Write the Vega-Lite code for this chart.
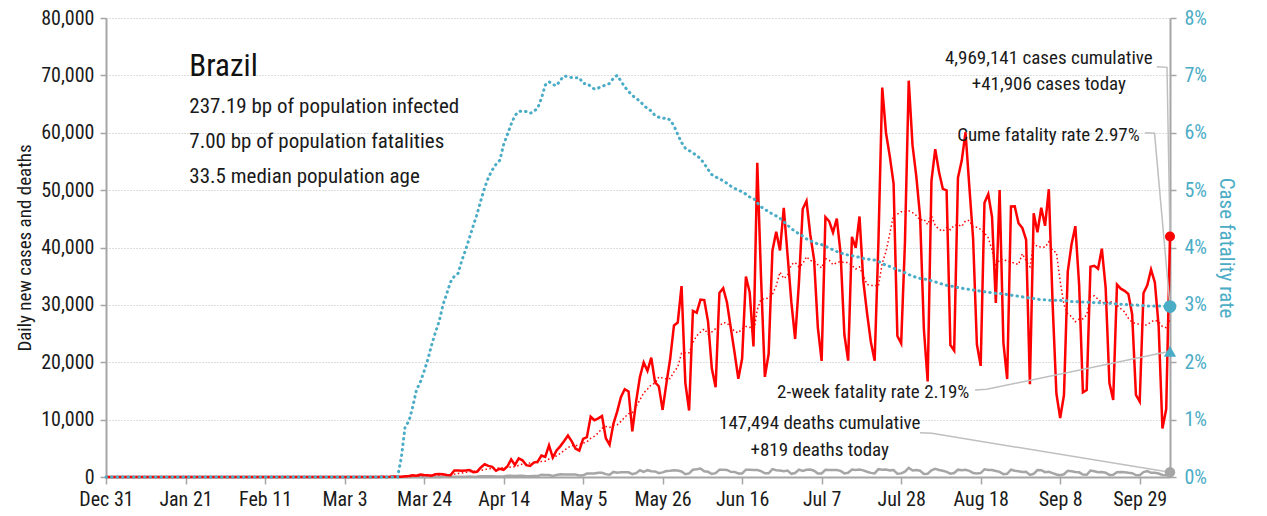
{
"$schema": "https://vega.github.io/schema/vega-lite/v6.json",
"width": 1064, "height": 459,
"autosize": {"type": "none"},
"padding": {"left": 106, "top": 18, "right": 97, "bottom": 39},
"background": "#ffffff",
"config": {"font": "Liberation Sans Narrow, Roboto Condensed, DejaVu Sans Condensed, Arial Narrow, sans-serif", "view": {"stroke": null}},
"data": {"values": [
{"date":"2019-12-31","cases":0,"deaths":0,"cfr":0},
{"date":"2020-01-01","cases":0,"deaths":0,"cfr":0},{"date":"2020-01-02","cases":0,"deaths":0,"cfr":0},{"date":"2020-01-03","cases":0,"deaths":0,"cfr":0},{"date":"2020-01-04","cases":0,"deaths":0,"cfr":0},{"date":"2020-01-05","cases":0,"deaths":0,"cfr":0},{"date":"2020-01-06","cases":0,"deaths":0,"cfr":0},{"date":"2020-01-07","cases":0,"deaths":0,"cfr":0},{"date":"2020-01-08","cases":0,"deaths":0,"cfr":0},{"date":"2020-01-09","cases":0,"deaths":0,"cfr":0},{"date":"2020-01-10","cases":0,"deaths":0,"cfr":0},
{"date":"2020-01-11","cases":0,"deaths":0,"cfr":0},{"date":"2020-01-12","cases":0,"deaths":0,"cfr":0},{"date":"2020-01-13","cases":0,"deaths":0,"cfr":0},{"date":"2020-01-14","cases":0,"deaths":0,"cfr":0},{"date":"2020-01-15","cases":0,"deaths":0,"cfr":0},{"date":"2020-01-16","cases":0,"deaths":0,"cfr":0},{"date":"2020-01-17","cases":0,"deaths":0,"cfr":0},{"date":"2020-01-18","cases":0,"deaths":0,"cfr":0},{"date":"2020-01-19","cases":0,"deaths":0,"cfr":0},{"date":"2020-01-20","cases":0,"deaths":0,"cfr":0},
{"date":"2020-01-21","cases":0,"deaths":0,"cfr":0},{"date":"2020-01-22","cases":0,"deaths":0,"cfr":0},{"date":"2020-01-23","cases":0,"deaths":0,"cfr":0},{"date":"2020-01-24","cases":0,"deaths":0,"cfr":0},{"date":"2020-01-25","cases":0,"deaths":0,"cfr":0},{"date":"2020-01-26","cases":0,"deaths":0,"cfr":0},{"date":"2020-01-27","cases":0,"deaths":0,"cfr":0},{"date":"2020-01-28","cases":0,"deaths":0,"cfr":0},{"date":"2020-01-29","cases":0,"deaths":0,"cfr":0},{"date":"2020-01-30","cases":0,"deaths":0,"cfr":0},{"date":"2020-01-31","cases":0,"deaths":0,"cfr":0},
{"date":"2020-02-01","cases":0,"deaths":0,"cfr":0},{"date":"2020-02-02","cases":0,"deaths":0,"cfr":0},{"date":"2020-02-03","cases":0,"deaths":0,"cfr":0},{"date":"2020-02-04","cases":0,"deaths":0,"cfr":0},{"date":"2020-02-05","cases":0,"deaths":0,"cfr":0},{"date":"2020-02-06","cases":0,"deaths":0,"cfr":0},{"date":"2020-02-07","cases":0,"deaths":0,"cfr":0},{"date":"2020-02-08","cases":0,"deaths":0,"cfr":0},{"date":"2020-02-09","cases":0,"deaths":0,"cfr":0},{"date":"2020-02-10","cases":0,"deaths":0,"cfr":0},
{"date":"2020-02-11","cases":0,"deaths":0,"cfr":0},{"date":"2020-02-12","cases":0,"deaths":0,"cfr":0},{"date":"2020-02-13","cases":0,"deaths":0,"cfr":0},{"date":"2020-02-14","cases":0,"deaths":0,"cfr":0},{"date":"2020-02-15","cases":0,"deaths":0,"cfr":0},{"date":"2020-02-16","cases":0,"deaths":0,"cfr":0},{"date":"2020-02-17","cases":0,"deaths":0,"cfr":0},{"date":"2020-02-18","cases":0,"deaths":0,"cfr":0},{"date":"2020-02-19","cases":0,"deaths":0,"cfr":0},{"date":"2020-02-20","cases":0,"deaths":0,"cfr":0},
{"date":"2020-02-21","cases":0,"deaths":0,"cfr":0},{"date":"2020-02-22","cases":0,"deaths":0,"cfr":0},{"date":"2020-02-23","cases":0,"deaths":0,"cfr":0},{"date":"2020-02-24","cases":0,"deaths":0,"cfr":0},{"date":"2020-02-25","cases":0,"deaths":0,"cfr":0},{"date":"2020-02-26","cases":1,"deaths":0,"cfr":0},{"date":"2020-02-27","cases":0,"deaths":0,"cfr":0},{"date":"2020-02-28","cases":0,"deaths":0,"cfr":0},{"date":"2020-02-29","cases":0,"deaths":0,"cfr":0},
{"date":"2020-03-01","cases":1,"deaths":0,"cfr":0},{"date":"2020-03-02","cases":0,"deaths":0,"cfr":0},{"date":"2020-03-03","cases":0,"deaths":0,"cfr":0},{"date":"2020-03-04","cases":0,"deaths":0,"cfr":0},{"date":"2020-03-05","cases":1,"deaths":0,"cfr":0},{"date":"2020-03-06","cases":5,"deaths":0,"cfr":0},{"date":"2020-03-07","cases":5,"deaths":0,"cfr":0},{"date":"2020-03-08","cases":0,"deaths":0,"cfr":0},{"date":"2020-03-09","cases":12,"deaths":0,"cfr":0},{"date":"2020-03-10","cases":0,"deaths":0,"cfr":0},
{"date":"2020-03-11","cases":9,"deaths":0,"cfr":0},{"date":"2020-03-12","cases":18,"deaths":0,"cfr":0},{"date":"2020-03-13","cases":25,"deaths":0,"cfr":0},{"date":"2020-03-14","cases":21,"deaths":0,"cfr":0},{"date":"2020-03-15","cases":23,"deaths":0,"cfr":0},{"date":"2020-03-16","cases":79,"deaths":0,"cfr":0},{"date":"2020-03-17","cases":34,"deaths":0,"cfr":0},{"date":"2020-03-18","cases":57,"deaths":1,"cfr":0.34},{"date":"2020-03-19","cases":137,"deaths":3,"cfr":0.88},{"date":"2020-03-20","cases":193,"deaths":3,"cfr":0.97},
{"date":"2020-03-21","cases":283,"deaths":4,"cfr":1.22},{"date":"2020-03-22","cases":224,"deaths":7,"cfr":1.52},{"date":"2020-03-23","cases":418,"deaths":7,"cfr":1.65},{"date":"2020-03-24","cases":345,"deaths":9,"cfr":1.84},{"date":"2020-03-25","cases":310,"deaths":12,"cfr":2.05},{"date":"2020-03-26","cases":232,"deaths":11,"cfr":2.3},{"date":"2020-03-27","cases":482,"deaths":20,"cfr":2.52},{"date":"2020-03-28","cases":502,"deaths":15,"cfr":2.72},{"date":"2020-03-29","cases":487,"deaths":22,"cfr":3.0},{"date":"2020-03-30","cases":352,"deaths":22,"cfr":3.2},{"date":"2020-03-31","cases":323,"deaths":23,"cfr":3.4},
{"date":"2020-04-01","cases":1138,"deaths":42,"cfr":3.5},{"date":"2020-04-02","cases":1119,"deaths":40,"cfr":3.55},{"date":"2020-04-03","cases":1074,"deaths":58,"cfr":3.78},{"date":"2020-04-04","cases":1146,"deaths":60,"cfr":3.96},{"date":"2020-04-05","cases":1222,"deaths":73,"cfr":4.17},{"date":"2020-04-06","cases":852,"deaths":54,"cfr":4.38},{"date":"2020-04-07","cases":926,"deaths":67,"cfr":4.58},{"date":"2020-04-08","cases":1661,"deaths":114,"cfr":4.82},{"date":"2020-04-09","cases":2210,"deaths":133,"cfr":5.04},{"date":"2020-04-10","cases":1930,"deaths":141,"cfr":5.22},
{"date":"2020-04-11","cases":1781,"deaths":115,"cfr":5.35},{"date":"2020-04-12","cases":1089,"deaths":68,"cfr":5.45},{"date":"2020-04-13","cases":1442,"deaths":99,"cfr":5.52},{"date":"2020-04-14","cases":1261,"deaths":105,"cfr":5.79},{"date":"2020-04-15","cases":1832,"deaths":204,"cfr":5.97},{"date":"2020-04-16","cases":3058,"deaths":204,"cfr":6.15},{"date":"2020-04-17","cases":2105,"deaths":188,"cfr":6.3},{"date":"2020-04-18","cases":3257,"deaths":217,"cfr":6.37},{"date":"2020-04-19","cases":2917,"deaths":206,"cfr":6.38},{"date":"2020-04-20","cases":2055,"deaths":115,"cfr":6.37},
{"date":"2020-04-21","cases":1927,"deaths":113,"cfr":6.34},{"date":"2020-04-22","cases":2498,"deaths":166,"cfr":6.37},{"date":"2020-04-23","cases":2678,"deaths":165,"cfr":6.43},{"date":"2020-04-24","cases":3735,"deaths":407,"cfr":6.6},{"date":"2020-04-25","cases":3503,"deaths":357,"cfr":6.83},{"date":"2020-04-26","cases":5514,"deaths":346,"cfr":6.89},{"date":"2020-04-27","cases":3379,"deaths":189,"cfr":6.84},{"date":"2020-04-28","cases":4613,"deaths":338,"cfr":6.82},{"date":"2020-04-29","cases":5385,"deaths":474,"cfr":6.92},{"date":"2020-04-30","cases":6276,"deaths":449,"cfr":6.99},
{"date":"2020-05-01","cases":7218,"deaths":435,"cfr":6.98},{"date":"2020-05-02","cases":6209,"deaths":428,"cfr":6.96},{"date":"2020-05-03","cases":4970,"deaths":421,"cfr":6.96},{"date":"2020-05-04","cases":4588,"deaths":275,"cfr":6.96},{"date":"2020-05-05","cases":6633,"deaths":296,"cfr":6.86},{"date":"2020-05-06","cases":6935,"deaths":600,"cfr":6.86},{"date":"2020-05-07","cases":10503,"deaths":615,"cfr":6.81},{"date":"2020-05-08","cases":9888,"deaths":610,"cfr":6.76},{"date":"2020-05-09","cases":10222,"deaths":751,"cfr":6.78},{"date":"2020-05-10","cases":10611,"deaths":730,"cfr":6.81},
{"date":"2020-05-11","cases":6760,"deaths":496,"cfr":6.83},{"date":"2020-05-12","cases":5632,"deaths":396,"cfr":6.86},{"date":"2020-05-13","cases":9258,"deaths":881,"cfr":6.95},{"date":"2020-05-14","cases":11385,"deaths":749,"cfr":7.0},{"date":"2020-05-15","cases":13944,"deaths":844,"cfr":6.9},{"date":"2020-05-16","cases":15305,"deaths":824,"cfr":6.8},{"date":"2020-05-17","cases":14919,"deaths":816,"cfr":6.72},{"date":"2020-05-18","cases":7938,"deaths":485,"cfr":6.65},{"date":"2020-05-19","cases":13140,"deaths":674,"cfr":6.6},{"date":"2020-05-20","cases":17408,"deaths":1179,"cfr":6.55},
{"date":"2020-05-21","cases":19951,"deaths":888,"cfr":6.48},{"date":"2020-05-22","cases":18508,"deaths":1188,"cfr":6.42},{"date":"2020-05-23","cases":20803,"deaths":1001,"cfr":6.38},{"date":"2020-05-24","cases":16508,"deaths":965,"cfr":6.3},{"date":"2020-05-25","cases":15813,"deaths":653,"cfr":6.27},{"date":"2020-05-26","cases":11687,"deaths":807,"cfr":6.25},{"date":"2020-05-27","cases":16324,"deaths":1039,"cfr":6.26},{"date":"2020-05-28","cases":20599,"deaths":1086,"cfr":6.22},{"date":"2020-05-29","cases":26417,"deaths":1156,"cfr":6.12},{"date":"2020-05-30","cases":26928,"deaths":1124,"cfr":5.97},{"date":"2020-05-31","cases":33274,"deaths":956,"cfr":5.83},
{"date":"2020-06-01","cases":16409,"deaths":480,"cfr":5.73},{"date":"2020-06-02","cases":11598,"deaths":623,"cfr":5.69},{"date":"2020-06-03","cases":28936,"deaths":1262,"cfr":5.65},{"date":"2020-06-04","cases":28633,"deaths":1349,"cfr":5.6},{"date":"2020-06-05","cases":30925,"deaths":1473,"cfr":5.55},{"date":"2020-06-06","cases":30830,"deaths":1005,"cfr":5.46},{"date":"2020-06-07","cases":27075,"deaths":904,"cfr":5.36},{"date":"2020-06-08","cases":18912,"deaths":525,"cfr":5.27},{"date":"2020-06-09","cases":15654,"deaths":679,"cfr":5.23},{"date":"2020-06-10","cases":32091,"deaths":1272,"cfr":5.2},
{"date":"2020-06-11","cases":32913,"deaths":1274,"cfr":5.16},{"date":"2020-06-12","cases":30412,"deaths":1239,"cfr":5.12},{"date":"2020-06-13","cases":25982,"deaths":909,"cfr":5.07},{"date":"2020-06-14","cases":21704,"deaths":892,"cfr":5.03},{"date":"2020-06-15","cases":17110,"deaths":612,"cfr":5.0},{"date":"2020-06-16","cases":20647,"deaths":627,"cfr":4.97},{"date":"2020-06-17","cases":34918,"deaths":1282,"cfr":4.93},{"date":"2020-06-18","cases":32188,"deaths":1269,"cfr":4.88},{"date":"2020-06-19","cases":22765,"deaths":1238,"cfr":4.86},{"date":"2020-06-20","cases":54771,"deaths":1206,"cfr":4.78},
{"date":"2020-06-21","cases":34666,"deaths":1022,"cfr":4.71},{"date":"2020-06-22","cases":17459,"deaths":641,"cfr":4.66},{"date":"2020-06-23","cases":21432,"deaths":654,"cfr":4.63},{"date":"2020-06-24","cases":39436,"deaths":1374,"cfr":4.58},{"date":"2020-06-25","cases":42725,"deaths":1185,"cfr":4.55},{"date":"2020-06-26","cases":39483,"deaths":1141,"cfr":4.51},{"date":"2020-06-27","cases":46907,"deaths":990,"cfr":4.45},{"date":"2020-06-28","cases":38693,"deaths":1109,"cfr":4.39},{"date":"2020-06-29","cases":30476,"deaths":552,"cfr":4.33},{"date":"2020-06-30","cases":24052,"deaths":692,"cfr":4.28},
{"date":"2020-07-01","cases":33846,"deaths":1280,"cfr":4.24},{"date":"2020-07-02","cases":46712,"deaths":1038,"cfr":4.2},{"date":"2020-07-03","cases":48105,"deaths":1252,"cfr":4.15},{"date":"2020-07-04","cases":42223,"deaths":1290,"cfr":4.12},{"date":"2020-07-05","cases":37923,"deaths":1091,"cfr":4.09},{"date":"2020-07-06","cases":26051,"deaths":602,"cfr":4.06},{"date":"2020-07-07","cases":20229,"deaths":620,"cfr":4.05},{"date":"2020-07-08","cases":45305,"deaths":1254,"cfr":4.02},{"date":"2020-07-09","cases":44571,"deaths":1223,"cfr":3.99},{"date":"2020-07-10","cases":42619,"deaths":1220,"cfr":3.96},
{"date":"2020-07-11","cases":45048,"deaths":1214,"cfr":3.93},{"date":"2020-07-12","cases":39023,"deaths":1071,"cfr":3.91},{"date":"2020-07-13","cases":24831,"deaths":631,"cfr":3.88},{"date":"2020-07-14","cases":20286,"deaths":733,"cfr":3.87},{"date":"2020-07-15","cases":41857,"deaths":1300,"cfr":3.86},{"date":"2020-07-16","cases":39924,"deaths":1233,"cfr":3.84},{"date":"2020-07-17","cases":45403,"deaths":1322,"cfr":3.83},{"date":"2020-07-18","cases":34177,"deaths":1163,"cfr":3.81},{"date":"2020-07-19","cases":28532,"deaths":921,"cfr":3.8},{"date":"2020-07-20","cases":23529,"deaths":716,"cfr":3.79},
{"date":"2020-07-21","cases":20257,"deaths":632,"cfr":3.78},{"date":"2020-07-22","cases":41008,"deaths":1367,"cfr":3.76},{"date":"2020-07-23","cases":67860,"deaths":1284,"cfr":3.72},{"date":"2020-07-24","cases":59961,"deaths":1311,"cfr":3.69},{"date":"2020-07-25","cases":55891,"deaths":1156,"cfr":3.67},{"date":"2020-07-26","cases":51147,"deaths":1211,"cfr":3.64},{"date":"2020-07-27","cases":24578,"deaths":555,"cfr":3.61},{"date":"2020-07-28","cases":23284,"deaths":627,"cfr":3.59},{"date":"2020-07-29","cases":40816,"deaths":921,"cfr":3.56},{"date":"2020-07-30","cases":69074,"deaths":1595,"cfr":3.53},{"date":"2020-07-31","cases":57837,"deaths":1129,"cfr":3.5},
{"date":"2020-08-01","cases":52383,"deaths":1212,"cfr":3.48},{"date":"2020-08-02","cases":45392,"deaths":1088,"cfr":3.46},{"date":"2020-08-03","cases":25800,"deaths":541,"cfr":3.45},{"date":"2020-08-04","cases":16641,"deaths":561,"cfr":3.44},{"date":"2020-08-05","cases":51603,"deaths":1154,"cfr":3.42},{"date":"2020-08-06","cases":57152,"deaths":1437,"cfr":3.4},{"date":"2020-08-07","cases":53139,"deaths":1226,"cfr":3.38},{"date":"2020-08-08","cases":50230,"deaths":1079,"cfr":3.36},{"date":"2020-08-09","cases":49970,"deaths":905,"cfr":3.34},{"date":"2020-08-10","cases":23010,"deaths":572,"cfr":3.33},
{"date":"2020-08-11","cases":22048,"deaths":703,"cfr":3.32},{"date":"2020-08-12","cases":52160,"deaths":1274,"cfr":3.3},{"date":"2020-08-13","cases":55155,"deaths":1175,"cfr":3.29},{"date":"2020-08-14","cases":60091,"deaths":1262,"cfr":3.28},{"date":"2020-08-15","cases":50644,"deaths":1060,"cfr":3.27},{"date":"2020-08-16","cases":41576,"deaths":709,"cfr":3.26},{"date":"2020-08-17","cases":23101,"deaths":620,"cfr":3.25},{"date":"2020-08-18","cases":19373,"deaths":684,"cfr":3.24},{"date":"2020-08-19","cases":47784,"deaths":1352,"cfr":3.23},{"date":"2020-08-20","cases":49298,"deaths":1212,"cfr":3.22},
{"date":"2020-08-21","cases":45323,"deaths":1204,"cfr":3.21},{"date":"2020-08-22","cases":30355,"deaths":1054,"cfr":3.2},{"date":"2020-08-23","cases":50032,"deaths":892,"cfr":3.2},{"date":"2020-08-24","cases":23421,"deaths":494,"cfr":3.19},{"date":"2020-08-25","cases":17078,"deaths":565,"cfr":3.18},{"date":"2020-08-26","cases":47134,"deaths":1271,"cfr":3.17},{"date":"2020-08-27","cases":47161,"deaths":1085,"cfr":3.16},{"date":"2020-08-28","cases":44235,"deaths":984,"cfr":3.15},{"date":"2020-08-29","cases":43412,"deaths":855,"cfr":3.14},{"date":"2020-08-30","cases":41350,"deaths":892,"cfr":3.13},{"date":"2020-08-31","cases":16158,"deaths":366,"cfr":3.12},
{"date":"2020-09-01","cases":45961,"deaths":553,"cfr":3.11},{"date":"2020-09-02","cases":42659,"deaths":1215,"cfr":3.1},{"date":"2020-09-03","cases":46934,"deaths":1184,"cfr":3.09},{"date":"2020-09-04","cases":43773,"deaths":834,"cfr":3.09},{"date":"2020-09-05","cases":50163,"deaths":907,"cfr":3.08},{"date":"2020-09-06","cases":30168,"deaths":682,"cfr":3.08},{"date":"2020-09-07","cases":14521,"deaths":447,"cfr":3.08},{"date":"2020-09-08","cases":10273,"deaths":310,"cfr":3.08},{"date":"2020-09-09","cases":14279,"deaths":476,"cfr":3.07},{"date":"2020-09-10","cases":35816,"deaths":1075,"cfr":3.07},
{"date":"2020-09-11","cases":40557,"deaths":983,"cfr":3.06},{"date":"2020-09-12","cases":43718,"deaths":874,"cfr":3.06},{"date":"2020-09-13","cases":33523,"deaths":814,"cfr":3.05},{"date":"2020-09-14","cases":14768,"deaths":415,"cfr":3.05},{"date":"2020-09-15","cases":15155,"deaths":381,"cfr":3.05},{"date":"2020-09-16","cases":36653,"deaths":1113,"cfr":3.04},{"date":"2020-09-17","cases":36820,"deaths":987,"cfr":3.04},{"date":"2020-09-18","cases":36303,"deaths":829,"cfr":3.04},{"date":"2020-09-19","cases":39797,"deaths":858,"cfr":3.03},{"date":"2020-09-20","cases":33057,"deaths":739,"cfr":3.03},
{"date":"2020-09-21","cases":16389,"deaths":363,"cfr":3.03},{"date":"2020-09-22","cases":13439,"deaths":377,"cfr":3.02},{"date":"2020-09-23","cases":33536,"deaths":836,"cfr":3.02},{"date":"2020-09-24","cases":32817,"deaths":869,"cfr":3.01},{"date":"2020-09-25","cases":32445,"deaths":831,"cfr":3.01},{"date":"2020-09-26","cases":31911,"deaths":729,"cfr":3.0},{"date":"2020-09-27","cases":28378,"deaths":666,"cfr":3.0},{"date":"2020-09-28","cases":14318,"deaths":335,"cfr":3.0},{"date":"2020-09-29","cases":13155,"deaths":317,"cfr":2.99},{"date":"2020-09-30","cases":32058,"deaths":863,"cfr":2.99},
{"date":"2020-10-01","cases":33413,"deaths":1031,"cfr":2.98},{"date":"2020-10-02","cases":36157,"deaths":729,"cfr":2.98},{"date":"2020-10-03","cases":33922,"deaths":728,"cfr":2.98},{"date":"2020-10-04","cases":26310,"deaths":599,"cfr":2.98},{"date":"2020-10-05","cases":8456,"deaths":363,"cfr":2.98},{"date":"2020-10-06","cases":11844,"deaths":323,"cfr":2.97},{"date":"2020-10-07","cases":41906,"deaths":819,"cfr":2.97}
]},
"encoding": {
  "x": {"field": "date", "type": "temporal",
    "scale": {"type": "utc", "domain": [{"year": 2019, "month": 12, "date": 31, "utc": true}, {"year": 2020, "month": 10, "date": 7, "utc": true}]},
    "axis": {"values": [
      {"year": 2019, "month": 12, "date": 31, "utc": true}, {"year": 2020, "month": 1, "date": 21, "utc": true}, {"year": 2020, "month": 2, "date": 11, "utc": true}, {"year": 2020, "month": 3, "date": 3, "utc": true}, {"year": 2020, "month": 3, "date": 24, "utc": true}, {"year": 2020, "month": 4, "date": 14, "utc": true}, {"year": 2020, "month": 5, "date": 5, "utc": true}, {"year": 2020, "month": 5, "date": 26, "utc": true}, {"year": 2020, "month": 6, "date": 16, "utc": true}, {"year": 2020, "month": 7, "date": 7, "utc": true}, {"year": 2020, "month": 7, "date": 28, "utc": true}, {"year": 2020, "month": 8, "date": 18, "utc": true}, {"year": 2020, "month": 9, "date": 8, "utc": true}, {"year": 2020, "month": 9, "date": 29, "utc": true}],
      "format": "%b %-d", "title": null, "grid": false, "labelOverlap": false, "labelFlush": false,
      "labelFontSize": 20, "labelColor": "#1a1a1a", "labelPadding": 5,
      "tickSize": 7, "tickColor": "#a6a6a6", "tickWidth": 1.5, "domainColor": "#a6a6a6", "domainWidth": 2}}
},
"layer": [
  {"mark": {"type": "line", "color": "#a6a6a6", "strokeWidth": 2.5},
   "encoding": {"y": {"field": "deaths", "type": "quantitative", "scale": {"domain": [0, 80000]},
     "axis": {"orient": "left", "values": [0, 10000, 20000, 30000, 40000, 50000, 60000, 70000, 80000], "format": ",d",
       "title": "Daily new cases and deaths", "titleFontSize": 19, "titleFontWeight": "normal", "titleColor": "#1a1a1a", "titlePadding": 6,
       "labelFontSize": 20, "labelColor": "#1a1a1a", "labelPadding": 6, "tickSize": 6, "tickColor": "#a6a6a6", "tickWidth": 1.5,
       "domainColor": "#a6a6a6", "domainWidth": 2, "grid": true, "gridColor": "#bdbdbd", "gridDash": [1, 2], "gridWidth": 1}}}},
  {"transform": [{"window": [{"op": "mean", "field": "cases", "as": "avg"}], "frame": [-6, 0], "sort": [{"field": "date"}]}],
   "mark": {"type": "line", "color": "#ff0000", "strokeWidth": 1.5, "strokeDash": [1.5, 2.5]},
   "encoding": {"y": {"field": "avg", "type": "quantitative", "scale": {"domain": [0, 80000]}, "axis": null}}},
  {"mark": {"type": "line", "color": "#ff0000", "strokeWidth": 2.5},
   "encoding": {"y": {"field": "cases", "type": "quantitative", "scale": {"domain": [0, 80000]}, "axis": null}}},
  {"mark": {"type": "line", "color": "#4bacc6", "strokeWidth": 3, "strokeDash": [0.5, 5], "strokeCap": "round"},
   "encoding": {"y": {"field": "cfr", "type": "quantitative", "scale": {"domain": [0, 8]},
     "axis": {"orient": "right", "values": [0, 1, 2, 3, 4, 5, 6, 7, 8], "labelExpr": "datum.value + '%'",
       "title": "Case fatality rate", "titleColor": "#4bacc6", "titleFontSize": 21, "titleFontWeight": "normal", "titlePadding": 9,
       "labelColor": "#4bacc6", "labelFontSize": 20, "labelPadding": 8, "tickSize": 6, "tickColor": "#a6a6a6", "tickWidth": 1.5,
       "domainColor": "#a6a6a6", "domainWidth": 2, "grid": false}}}},
  {"data": {"values": [
     {"id": "cases", "ord": 1, "date": "2020-10-03T12:00:00Z", "value": 71500},
     {"id": "cases", "ord": 2, "date": "2020-10-06T05:00:00Z", "value": 71400},
     {"id": "cases", "ord": 3, "date": "2020-10-07", "value": 41906},
     {"id": "cume", "ord": 1, "date": "2020-09-30T10:00:00Z", "value": 60000},
     {"id": "cume", "ord": 2, "date": "2020-10-02T22:00:00Z", "value": 59900},
     {"id": "cume", "ord": 3, "date": "2020-10-07", "value": 29700},
     {"id": "twoweek", "ord": 1, "date": "2020-08-16T12:00:00Z", "value": 15160},
     {"id": "twoweek", "ord": 2, "date": "2020-08-19T14:00:00Z", "value": 15290},
     {"id": "twoweek", "ord": 3, "date": "2020-10-07", "value": 21900},
     {"id": "deaths", "ord": 1, "date": "2020-08-02", "value": 7720},
     {"id": "deaths", "ord": 2, "date": "2020-08-05T02:00:00Z", "value": 7620},
     {"id": "deaths", "ord": 3, "date": "2020-10-07", "value": 819}]},
   "mark": {"type": "line", "color": "#bfbfbf", "strokeWidth": 1.5},
   "encoding": {"y": {"field": "value", "type": "quantitative", "scale": {"domain": [0, 80000]}, "axis": null},
     "detail": {"field": "id"}, "order": {"field": "ord"}}},
  {"data": {"values": [{"label": "Brazil", "date": "2020-01-22", "value": 69900}]},
   "mark": {"type": "text", "align": "left", "baseline": "alphabetic", "fontSize": 31, "color": "#111111"},
   "encoding": {"y": {"field": "value", "type": "quantitative", "scale": {"domain": [0, 80000]}, "axis": null}, "text": {"field": "label"}}},
  {"data": {"values": [
     {"label": "237.19 bp of population infected", "date": "2020-01-22", "value": 63400},
     {"label": "7.00 bp of population fatalities", "date": "2020-01-22", "value": 57300},
     {"label": "33.5 median population age", "date": "2020-01-22", "value": 51200}]},
   "mark": {"type": "text", "align": "left", "baseline": "alphabetic", "fontSize": 21, "color": "#1a1a1a"},
   "encoding": {"y": {"field": "value", "type": "quantitative", "scale": {"domain": [0, 80000]}, "axis": null}, "text": {"field": "label"}}},
  {"data": {"values": [
     {"label": "4,969,141 cases cumulative", "date": "2020-09-05", "value": 72000},
     {"label": "+41,906 cases today", "date": "2020-09-05", "value": 67500},
     {"label": "147,494 deaths cumulative", "date": "2020-07-06T12:00:00Z", "value": 8400},
     {"label": "+819 deaths today", "date": "2020-07-06T12:00:00Z", "value": 3700}]},
   "mark": {"type": "text", "align": "center", "baseline": "alphabetic", "fontSize": 19, "color": "#1a1a1a"},
   "encoding": {"y": {"field": "value", "type": "quantitative", "scale": {"domain": [0, 80000]}, "axis": null}, "text": {"field": "label"}}},
  {"data": {"values": [
     {"label": "Cume fatality rate 2.97%", "date": "2020-09-29", "value": 58600},
     {"label": "2-week fatality rate 2.19%", "date": "2020-08-15", "value": 13800}]},
   "mark": {"type": "text", "align": "right", "baseline": "alphabetic", "fontSize": 19, "color": "#1a1a1a"},
   "encoding": {"y": {"field": "value", "type": "quantitative", "scale": {"domain": [0, 80000]}, "axis": null}, "text": {"field": "label"}}},
  {"data": {"values": [{"date": "2020-10-07", "value": 41906}]},
   "mark": {"type": "point", "shape": "circle", "filled": true, "opacity": 1, "size": 100, "color": "#ff0000"},
   "encoding": {"y": {"field": "value", "type": "quantitative", "scale": {"domain": [0, 80000]}, "axis": null}}},
  {"data": {"values": [{"date": "2020-10-07", "value": 819}]},
   "mark": {"type": "point", "shape": "circle", "filled": true, "opacity": 1, "size": 110, "color": "#a6a6a6"},
   "encoding": {"y": {"field": "value", "type": "quantitative", "scale": {"domain": [0, 80000]}, "axis": null}}},
  {"data": {"values": [{"date": "2020-10-07", "rate": 2.97}]},
   "mark": {"type": "point", "shape": "circle", "filled": true, "opacity": 1, "size": 160, "color": "#4bacc6"},
   "encoding": {"y": {"field": "rate", "type": "quantitative", "scale": {"domain": [0, 8]}, "axis": null}}},
  {"data": {"values": [{"date": "2020-10-07", "rate": 2.19}]},
   "mark": {"type": "point", "shape": "triangle-up", "filled": true, "opacity": 1, "size": 150, "color": "#4bacc6"},
   "encoding": {"y": {"field": "rate", "type": "quantitative", "scale": {"domain": [0, 8]}, "axis": null}}}
],
"resolve": {"scale": {"y": "independent"}}
}
